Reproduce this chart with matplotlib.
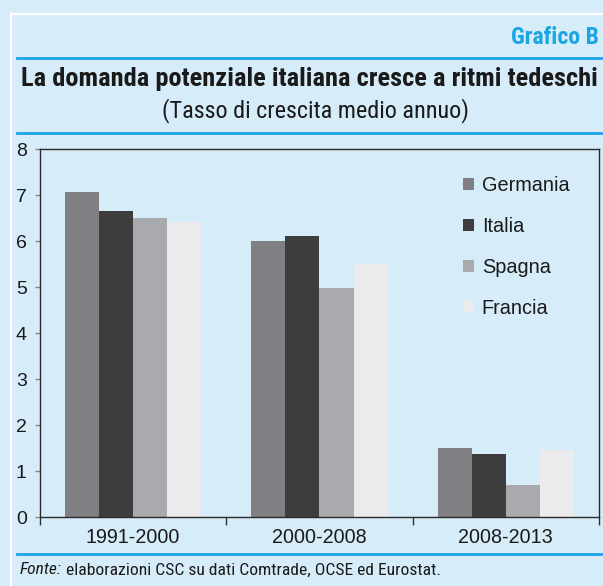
import matplotlib
matplotlib.use("Agg")
import matplotlib.pyplot as plt
from matplotlib.patches import Patch
from matplotlib import font_manager as fm

periods = ["1991-2000", "2000-2008", "2008-2013"]
countries = ["Germania", "Italia", "Spagna", "Francia"]
germania = [7.06, 6.00, 1.50]
italia = [6.66, 6.10, 1.36]
spagna = [6.51, 4.98, 0.69]
francia = [6.42, 5.49, 1.46]
yticks = [0, 1, 2, 3, 4, 5, 6, 7, 8]

series = [germania, italia, spagna, francia]
colors = ["#808084", "#3d3d3d", "#a9aaad", "#ebebed"]

names = {f.name for f in fm.fontManager.ttflist}
narrow = "Liberation Sans Narrow" if "Liberation Sans Narrow" in names else "Roboto Condensed" if "Roboto Condensed" in names else "Liberation Sans"
regular = "Liberation Sans"

BG = "#d6ecf9"
BLUE = "#1aa6e4"

fig = plt.figure(figsize=(6.03, 5.86), dpi=100, facecolor=BG)
W, H = 603, 586

def fx(x):
    return x / W

def fy(y):
    return 1 - y / H

# white frame lines
fig.add_artist(plt.Line2D([fx(10.5), fx(10.5)], [fy(13.5), 0], color="white", lw=1.6))
fig.add_artist(plt.Line2D([fx(10.5), 1], [fy(13.5), fy(13.5)], color="white", lw=1.6))
# blue rules
for yy in (57.5, 132.5, 554):
    fig.add_artist(plt.Line2D([fx(17), 1], [fy(yy), fy(yy)], color=BLUE, lw=2.0))

fig.text(fx(599), fy(37), "Grafico B", ha="right", va="center", color=BLUE,
         fontsize=17, fontweight="bold", family=narrow)
fig.text(fx(309.5), fy(79), "La domanda potenziale italiana cresce a ritmi tedeschi",
         ha="center", va="center", color="#1a1a1a", fontsize=19, fontweight="bold", family=narrow)
fig.text(fx(316), fy(111), "(Tasso di crescita medio annuo)", ha="center", va="center",
         color="#1a1a1a", fontsize=17.4, family=narrow)
t1 = fig.text(fx(20), fy(570), "Fonte:", ha="left", va="center", color="#1a1a1a",
              fontsize=12.6, style="italic", family=narrow)
fig.canvas.draw()
bb = t1.get_window_extent()
fig.text(bb.x1 / W + fx(4), fy(570), "elaborazioni CSC su dati Comtrade, OCSE ed Eurostat.",
         ha="left", va="center", color="#1a1a1a", fontsize=12.6, family=narrow)

ax = fig.add_axes([fx(40), fy(517), fx(599) - fx(40), fy(149) - fy(517)])
ax.set_facecolor(BG)

bw = 0.183
for i, (vals, c, name) in enumerate(zip(series, colors, countries)):
    xs = [k + (i - 1.5) * bw for k in range(len(periods))]
    ax.bar(xs, vals, width=bw, color=c, edgecolor="none", label=name, zorder=2)

ax.set_xlim(-0.5, 2.5)
ax.set_ylim(0, 8)
ax.set_yticks(yticks)
ax.set_yticklabels([str(v) for v in yticks], family=regular, fontsize=14, color="#1a1a1a")
ax.set_xticks([-0.5, 0.5, 1.5, 2.5])
ax.set_xticklabels([])
ax.set_xticks(range(len(periods)), minor=True)
ax.set_xticklabels(periods, minor=True, family=regular, fontsize=14.2, color="#1a1a1a")
ax.tick_params(axis="x", which="minor", length=0, pad=8)
ax.tick_params(axis="x", which="major", length=6, color="#333333", width=1)
ax.tick_params(axis="y", length=3.5, color="#888888", width=1, pad=6)
for s in ax.spines.values():
    s.set_color("#2a2a2a")
    s.set_linewidth(1.0)

handles = [Patch(facecolor=c, edgecolor="none") for c in colors]
leg = ax.legend(handles, countries, loc="upper left",
                bbox_to_anchor=(fx(463), fy(176)), bbox_transform=fig.transFigure,
                frameon=False, handlelength=0.55, handleheight=0.55, handletextpad=0.4,
                labelspacing=1.1, borderpad=0, borderaxespad=0,
                prop={"family": regular, "size": 14.3})
for t in leg.get_texts():
    t.set_color("#1a1a1a")

fig.savefig("out.png", dpi=100, facecolor=BG)
